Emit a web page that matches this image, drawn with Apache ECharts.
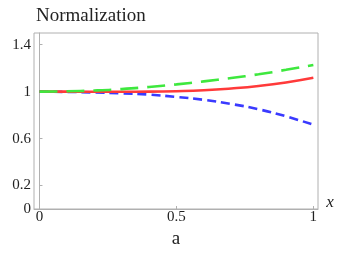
<!DOCTYPE html>
<html><head><meta charset="utf-8">
<script src="https://cdn.jsdelivr.net/npm/echarts@6/dist/echarts.min.js"></script>
<style>html,body{margin:0;padding:0;background:#fff}#c{width:341px;height:256px}</style>
</head><body><div id="c"></div>
<script>
var xs = [0, 0.1, 0.2, 0.3, 0.4, 0.5, 0.6, 0.7, 0.8, 0.9, 1];
var greenVals = [1, 1.003, 1.01, 1.022, 1.04, 1.062, 1.088, 1.116, 1.148, 1.186, 1.228];
var redVals = [1, 1.0, 0.999, 0.999, 1.0, 1.004, 1.012, 1.027, 1.048, 1.078, 1.118];
var blueVals = [1, 0.998, 0.993, 0.986, 0.975, 0.955, 0.93, 0.895, 0.85, 0.79, 0.718];
var xTicks = [0, 0.5, 1];
var yTicks = [0, 0.2, 0.6, 1, 1.4];
var xTickLabels = ['0', '0.5', '1'];
var yTickLabels = ['0', '0.2', '0.6', '1', '1.4'];
var titleText = 'Normalization';
var xName = 'x';
var bottomText = 'a';

function pairs(v){ return xs.map(function(x,i){ return [x, v[i]]; }); }
function fmt(ticks, labels){ return function(v){ for (var i=0;i<ticks.length;i++){ if (Math.abs(ticks[i]-v)<1e-9) return labels[i]; } return ''; }; }

var frame = '#b0b0b0';
var serif = 'Liberation Serif';
var chart = echarts.init(document.getElementById('c'), null, {renderer:'canvas'});
chart.setOption({
  animation:false,
  textStyle:{fontFamily:serif},
  grid:{left:34, top:33, right:23, bottom:47, show:true, borderColor:frame, borderWidth:1, containLabel:false},
  xAxis:{type:'value', min:-0.02, max:1.017,
    axisLine:{show:true, lineStyle:{color:frame, width:1}},
    axisTick:{show:true, inside:true, length:3, lineStyle:{color:frame}, customValues:xTicks},
    axisLabel:{show:true, margin:1, color:'#222', fontFamily:serif, fontSize:15, customValues:xTicks, formatter:fmt(xTicks,xTickLabels)},
    splitLine:{show:false}},
  yAxis:{type:'value', min:0, max:1.5,
    axisLine:{show:true, lineStyle:{color:frame, width:1}},
    axisTick:{show:true, inside:true, length:3, lineStyle:{color:frame}, customValues:yTicks},
    axisLabel:{show:true, margin:3, color:'#222', fontFamily:serif, fontSize:15, customValues:yTicks, formatter:fmt(yTicks,yTickLabels)},
    splitLine:{show:false}},
  graphic:[
    {type:'text', left:36, top:7, style:{text:titleText, fontFamily:serif, fontSize:19, fill:'#222'}},
    {type:'text', x:330, y:203, style:{text:xName, fontFamily:serif, fontStyle:'italic', fontSize:17, fill:'#222', align:'center', verticalAlign:'middle'}},
    {type:'text', x:176, y:239, style:{text:bottomText, fontFamily:serif, fontSize:19, fill:'#222', align:'center', verticalAlign:'middle'}}
  ],
  series:[
    {type:'line', data:pairs(blueVals), smooth:true, showSymbol:false, lineStyle:{color:'#3a3aff', width:2.6, type:[9,5]}},
    {type:'line', data:pairs(redVals), smooth:true, showSymbol:false, lineStyle:{color:'#ff3a3a', width:2.6}},
    {type:'line', data:pairs(greenVals), smooth:true, showSymbol:false, lineStyle:{color:'#3ee83e', width:2.6, type:[18,9]}}
  ]
});
</script></body></html>
